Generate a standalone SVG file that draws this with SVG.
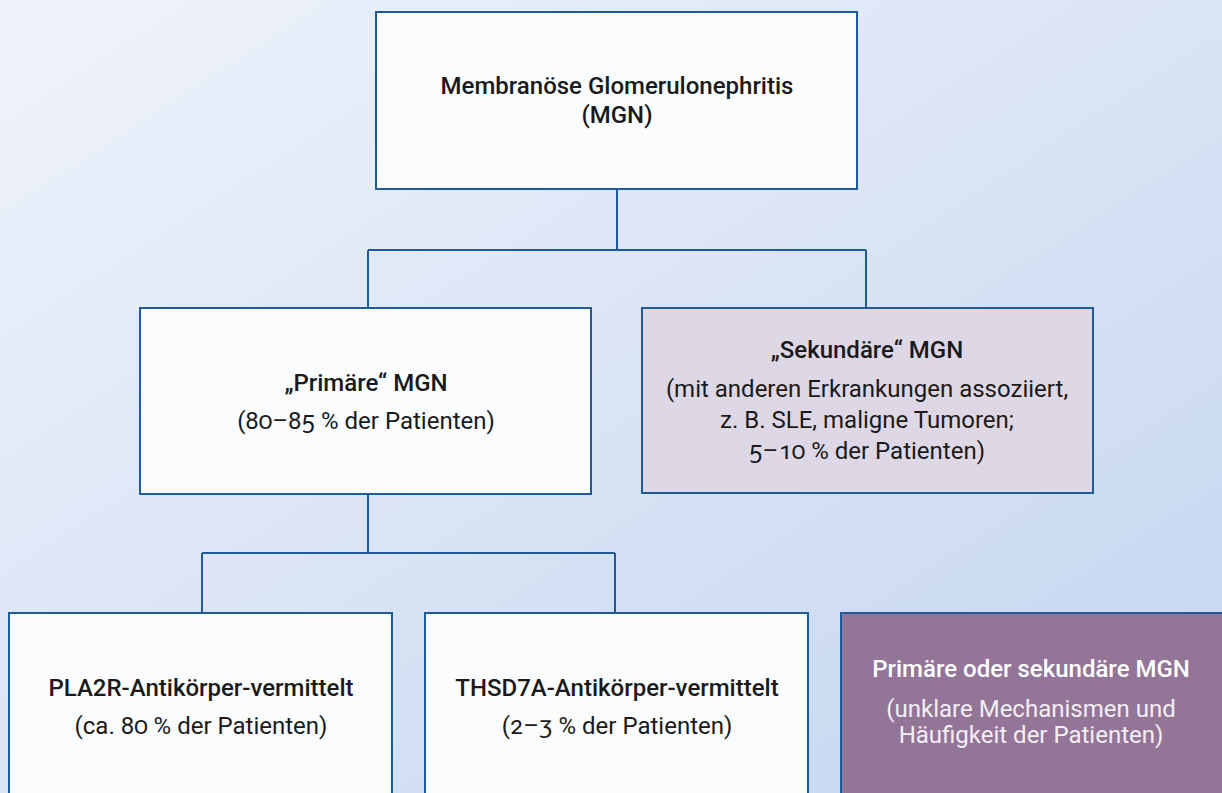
<svg xmlns="http://www.w3.org/2000/svg" width="1222" height="793" viewBox="0 0 1222 793">
<defs>
<linearGradient id="bg" x1="0" y1="0" x2="1" y2="1">
<stop offset="0" stop-color="#EFF3FB"/>
<stop offset="1" stop-color="#C4D5EF"/>
</linearGradient>
<style>
.box{stroke:#1F5A9A;stroke-width:2}
.w{fill:#FBFCFE}
.t{font-family:Roboto,"Liberation Sans",sans-serif;font-size:24px;text-anchor:middle;fill:#1A1A1A}
.b{font-weight:500}
.o{font-variant-numeric:oldstyle-nums}
.conn{fill:none;stroke:#1F5A9A;stroke-width:2}
.lt{fill:#F4EEF5}
</style>
</defs>
<rect width="1222" height="793" fill="url(#bg)"/>
<g id="connectors" class="conn">
<path d="M617 189V250M368 250H866M368 250V308M866 250V308"/>
<path d="M368 494V553M202 553H615M202 553V613M615 553V613"/>
</g>
<g id="mgn">
<rect class="box w" x="376" y="12" width="481" height="177"/>
<text class="t b" x="617" y="94">Membranöse Glomerulonephritis</text>
<text class="t b" x="617" y="123">(MGN)</text>
</g>
<g id="primaer">
<rect class="box w" x="140" y="308" width="451" height="186"/>
<text class="t b" x="366" y="391">„Primäre“ MGN</text>
<text class="t o" x="366" y="429">(80–85 % der Patienten)</text>
</g>
<g id="sekundaer">
<rect class="box" fill="#DED8E6" x="642" y="308" width="451" height="185"/>
<text class="t b" x="867" y="358">„Sekundäre“ MGN</text>
<text class="t" x="867" y="397">(mit anderen Erkrankungen assoziiert,</text>
<text class="t" x="867" y="428">z. B. SLE, maligne Tumoren;</text>
<text class="t o" x="867" y="459">5–10 % der Patienten)</text>
</g>
<g id="pla2r">
<rect class="box w" x="9" y="613" width="383" height="190"/>
<text class="t b" x="201" y="696">PLA2R-Antikörper-vermittelt</text>
<text class="t o" x="201" y="734">(ca. 80 % der Patienten)</text>
</g>
<g id="thsd7a">
<rect class="box w" x="425" y="613" width="383" height="190"/>
<text class="t b" x="617" y="696">THSD7A-Antikörper-vermittelt</text>
<text class="t o" x="617" y="734">(2–3 % der Patienten)</text>
</g>
<g id="unklar">
<rect class="box" fill="#937598" x="841" y="613" width="400" height="190"/>
<text class="t b" x="1031" y="677" style="fill:#FFFFFF">Primäre oder sekundäre MGN</text>
<text class="t lt" x="1031" y="717">(unklare Mechanismen und</text>
<text class="t lt" x="1031" y="743">Häufigkeit der Patienten)</text>
</g>
</svg>
